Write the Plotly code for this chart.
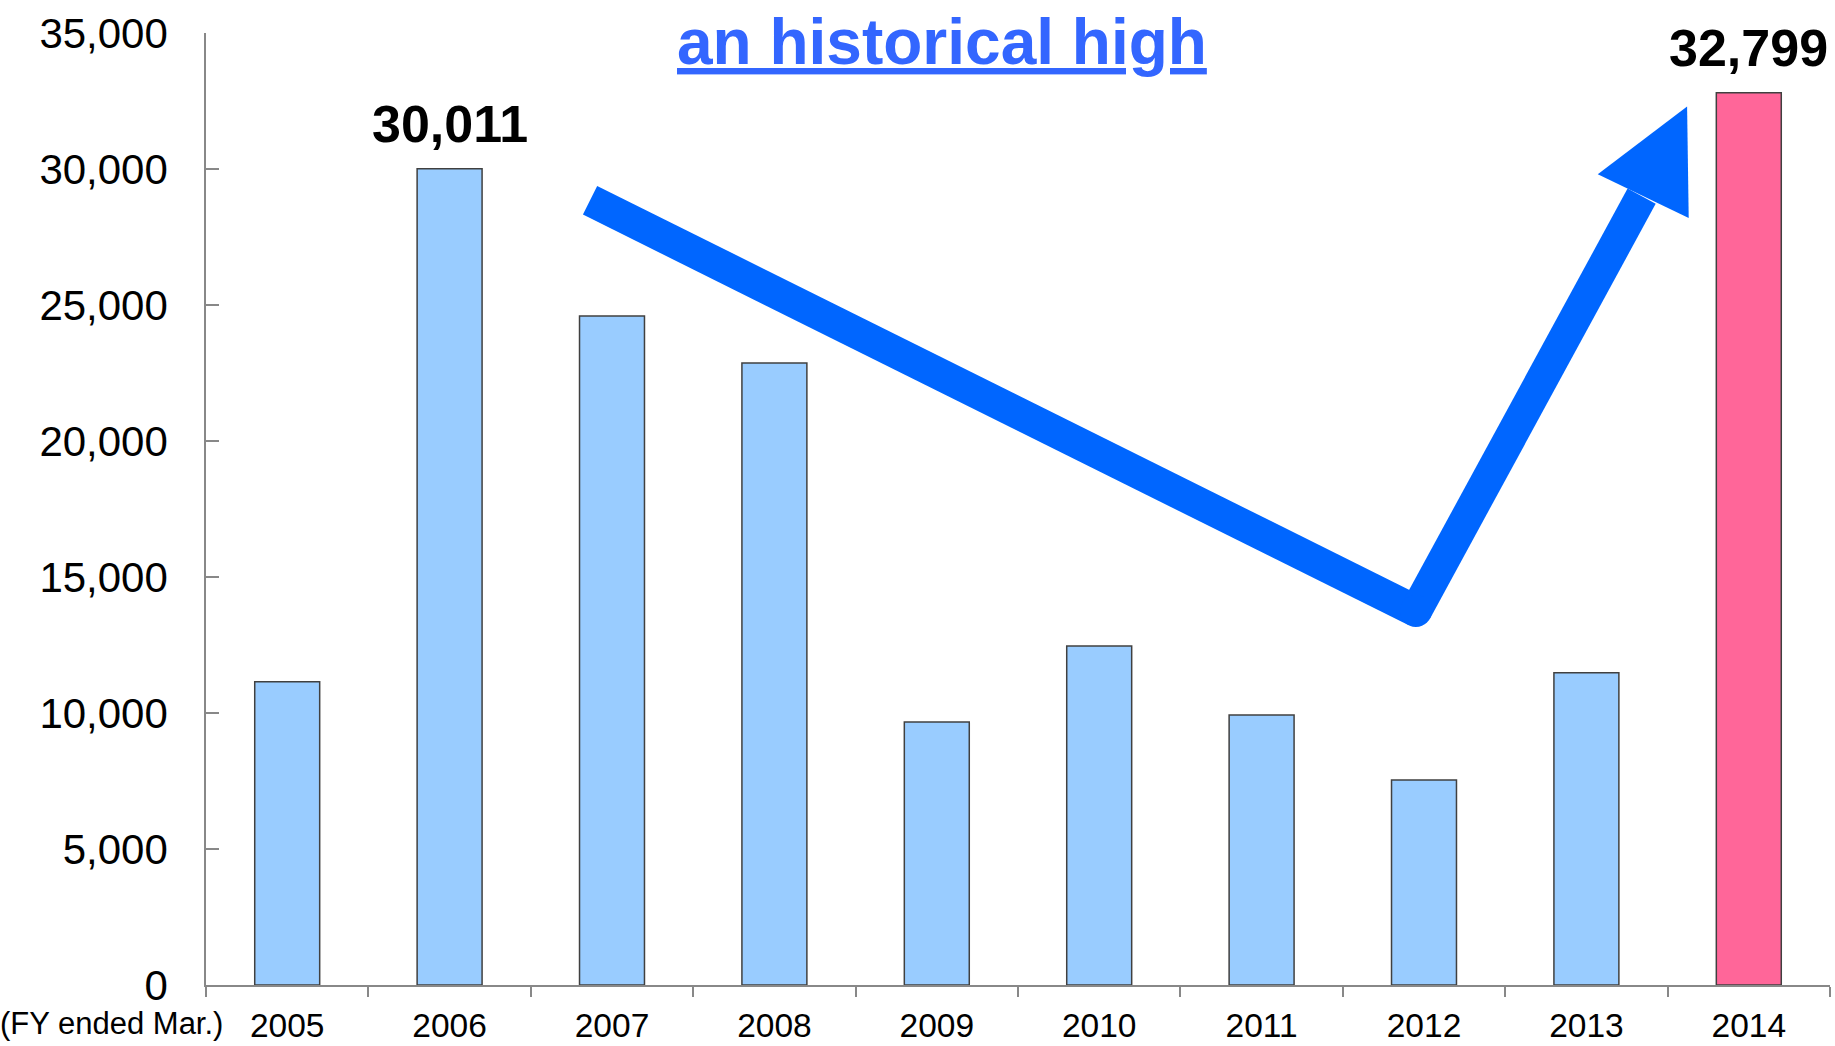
import plotly.graph_objects as go

# data
years = ["2005", "2006", "2007", "2008", "2009", "2010", "2011", "2012", "2013", "2014"]
values = [11150, 30011, 24600, 22870, 9670, 12460, 9930, 7540, 11480, 32799]
bar_colors = ["#99CCFF"] * 9 + ["#FF6699"]
labeled = {"2006": "30,011", "2014": "32,799"}

# arrow path in axis units (category index, value)
arrow_start = (1.865, 28850)
arrow_turn = (6.95, 13750)
arrow_end = (8.34, 29000)
arrow_head = [(8.62, 32300), (8.07, 29810), (8.63, 28200)]

BLUE = "#0066FF"
FONT = "Liberation Sans, Arial, sans-serif"

fig = go.Figure()
fig.add_trace(
    go.Bar(
        x=years,
        y=values,
        marker=dict(color=bar_colors, line=dict(color="#404040", width=1.5)),
        hoverinfo="x+y",
    )
)

# value labels (x given as category index)
for yr, txt in labeled.items():
    i = years.index(yr)
    fig.add_annotation(
        x=i, y=values[i], text=f"<b>{txt}</b>",
        showarrow=False, yanchor="bottom", yshift=14,
        font=dict(size=52, color="black", family=FONT),
    )

# big blue trend arrow
shapes = []
for (x0, y0), (x1, y1) in [(arrow_start, arrow_turn), (arrow_turn, arrow_end)]:
    shapes.append(dict(type="line", xref="x", yref="y", x0=x0, y0=y0, x1=x1, y1=y1,
                       line=dict(color=BLUE, width=32)))
shapes.append(dict(type="circle", xref="x", yref="y", xsizemode="pixel", ysizemode="pixel",
                   xanchor=arrow_turn[0], yanchor=arrow_turn[1],
                   x0=-16, x1=16, y0=-16, y1=16,
                   fillcolor=BLUE, line=dict(width=0)))
p = arrow_head
shapes.append(dict(type="path", xref="x", yref="y",
                   path=f"M {p[0][0]},{p[0][1]} L {p[1][0]},{p[1][1]} L {p[2][0]},{p[2][1]} Z",
                   fillcolor=BLUE, line=dict(width=0)))

fig.add_annotation(
    xref="paper", yref="paper", x=0.453, y=0.991, yanchor="middle",
    text="<u><b>an historical high</b></u>", showarrow=False,
    font=dict(size=64, color="#3366FF", family=FONT),
)
fig.add_annotation(
    xref="paper", yref="paper", x=0.012, y=-0.04, xanchor="right", yanchor="middle",
    text="(FY ended Mar.)", showarrow=False,
    font=dict(size=31, color="black", family=FONT),
)

fig.update_layout(
    width=1835, height=1046,
    margin=dict(l=206, r=5, t=33, b=61, autoexpand=False),
    plot_bgcolor="white", paper_bgcolor="white",
    bargap=0.6, showlegend=False,
    shapes=shapes,
    font=dict(family=FONT, color="black"),
)
fig.update_xaxes(
    type="category", range=[-0.5, 9.5], showline=True, linecolor="#888888", linewidth=1.5,
    ticks="outside", tickson="boundaries", ticklen=10, tickcolor="#888888", tickwidth=1.5,
    tickfont=dict(size=33.5), showgrid=False, tickangle=0, automargin=False,
    ticklabelstandoff=10,
)
fig.update_yaxes(
    range=[0, 35000], dtick=5000, tickformat=",", showline=True,
    linecolor="#888888", linewidth=1.5, ticks="inside", ticklen=13,
    tickcolor="#888888", tickwidth=1.5, tickfont=dict(size=42),
    showgrid=False, zeroline=False, ticklabelstandoff=28, automargin=False,
)

fig.write_html("out.html", config={"displayModeBar": False},
               post_script="document.body.style.margin='0';")
